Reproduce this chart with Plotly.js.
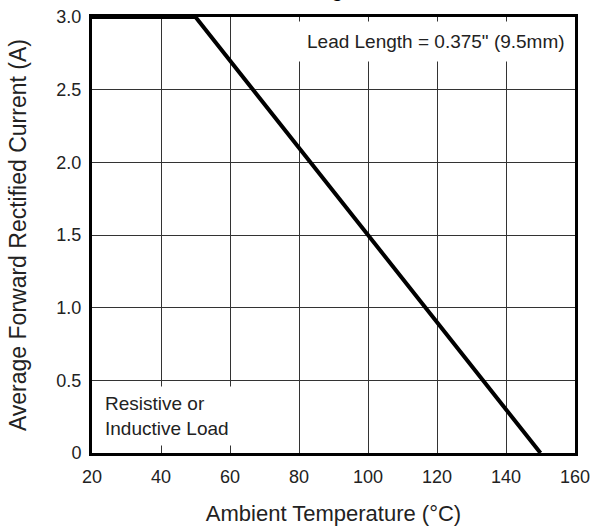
<!DOCTYPE html>
<html>
<head>
<meta charset="utf-8">
<script src="https://cdn.plot.ly/plotly-3.0.1.min.js"></script>
<style>html,body{margin:0;padding:0;background:#fff;}#chart{width:590px;height:531px;}</style>
</head>
<body>
<div id="chart"></div>
<script>
// Derating curve data
const temperature = [20, 50, 150];
const current = [3.0, 3.0, 0];
const xTicks = [20, 40, 60, 80, 100, 120, 140, 160];
const yTickVals = [0, 0.5, 1.0, 1.5, 2.0, 2.5, 3.0];
const yTickText = ['0', '0.5', '1.0', '1.5', '2.0', '2.5', '3.0'];
const titleText = 'Derating Curve';
const xTitle = 'Ambient Temperature (°C)';
const yTitle = 'Average Forward Rectified Current (A)';
const noteLead = 'Lead Length = 0.375" (9.5mm)';
const noteLoad = 'Resistive or<br>Inductive Load';

const font = 'Liberation Sans, Arial, sans-serif';
const txt = '#222';

const trace = {
  x: temperature, y: current, type: 'scatter', mode: 'lines',
  line: {color: '#000', width: 4}, hoverinfo: 'skip', showlegend: false
};

const layout = {
  width: 590, height: 531,
  margin: {l: 92, r: 15, t: 17, b: 78},
  paper_bgcolor: '#fff', plot_bgcolor: '#fff',
  font: {family: font, color: txt, size: 18},
  xaxis: {
    range: [20, 160], tickvals: xTicks, ticktext: xTicks.map(String),
    showgrid: true, gridcolor: '#333', gridwidth: 1,
    showline: true, linecolor: '#000', linewidth: 3, mirror: true,
    zeroline: false, ticks: '', ticklabelstandoff: 5, ticklabeloverflow: 'allow',
    tickfont: {size: 18, color: txt, family: font},
    title: {text: xTitle, font: {size: 22, color: txt, family: font}, standoff: 21}
  },
  yaxis: {
    range: [0, 3.0], tickvals: yTickVals, ticktext: yTickText,
    showgrid: true, gridcolor: '#333', gridwidth: 1,
    showline: true, linecolor: '#000', linewidth: 3, mirror: true,
    zeroline: false, ticks: '', ticklabelstandoff: 4, ticklabeloverflow: 'allow',
    tickfont: {size: 18, color: txt, family: font}
  },
  annotations: [
    {xref: 'paper', yref: 'paper', x: -0.153, y: 0.5, xanchor: 'center', yanchor: 'middle',
     textangle: -90, text: yTitle, showarrow: false,
     font: {size: 23, color: txt, family: font}},
    {xref: 'paper', yref: 'paper', x: 1.0, y: 0.99, xanchor: 'right', yanchor: 'top',
     text: noteLead, showarrow: false, bgcolor: '#fff', borderpad: 9,
     font: {size: 19, color: txt, family: font}},
    {xref: 'paper', yref: 'paper', x: 0.012, y: 0.015, xanchor: 'left', yanchor: 'bottom',
     text: noteLoad, showarrow: false, bgcolor: '#fff', borderpad: 6, align: 'left',
     font: {size: 19, color: txt, family: font}},
    {xref: 'paper', yref: 'paper', x: 0.5, y: 1.039, xanchor: 'center', yanchor: 'bottom', yshift: -3,
     text: '<b>' + titleText + '</b>', showarrow: false,
     font: {size: 19, color: '#000', family: font}}
  ]
};

Plotly.newPlot('chart', [trace], layout, {staticPlot: true, displayModeBar: false});
</script>
</body>
</html>
